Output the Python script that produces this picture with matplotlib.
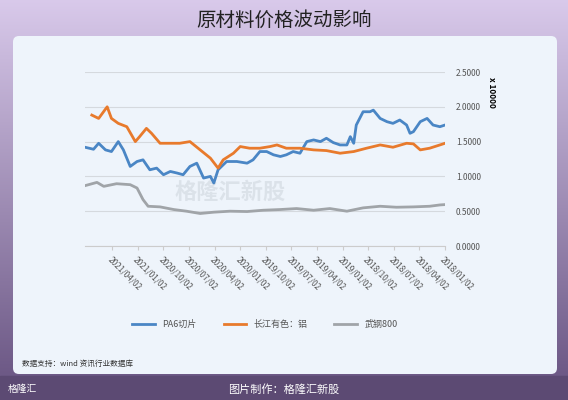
import numpy as np
import matplotlib
matplotlib.use('Agg')
import matplotlib.pyplot as plt
from matplotlib.patches import FancyBboxPatch, Rectangle

plt.rcParams['font.family'] = ['Noto Sans CJK SC', 'DejaVu Sans']

# months after 2018/01/02, values in units of 10000
tick_labels = ['2018/01/02', '2018/04/02', '2018/07/02', '2018/10/02', '2019/01/02',
               '2019/04/02', '2019/07/02', '2019/10/02', '2020/01/02', '2020/04/02',
               '2020/07/02', '2020/10/02', '2021/01/02', '2021/04/02']
tick_months = [0, 3, 6, 9, 12, 15, 18, 21, 24, 27, 30, 33, 36, 39]

pa6_m = [0, 0.6, 1.4, 2.1, 2.9, 3.7, 4.1, 4.5, 5.3, 6.1, 6.8, 7.6, 8.4, 8.8, 9.6, 10.4, 10.7,
         11.1, 11.5, 12.3, 13.1, 13.9, 14.6, 15.4, 16.2, 17.0, 17.8, 18.6, 19.3, 20.1, 20.9,
         21.7, 22.5, 23.2, 24.4, 25.6, 26.6, 27.1, 27.5, 28.3, 29.1, 29.9, 30.7, 31.4, 32.2,
         33.0, 33.8, 34.6, 35.4, 36.1, 36.9, 37.7, 38.3, 39.1, 39.8, 40.6, 41.2, 42.2]
pa6_v = [1.738, 1.714, 1.738, 1.833, 1.786, 1.643, 1.619, 1.738, 1.81, 1.762, 1.786, 1.833,
         1.952, 1.929, 1.929, 1.738, 1.476, 1.571, 1.452, 1.452, 1.486, 1.548, 1.5, 1.524,
         1.5, 1.333, 1.357, 1.31, 1.286, 1.31, 1.357, 1.357, 1.238, 1.19, 1.214, 1.214, 1.095,
         0.905, 1.0, 0.976, 1.19, 1.143, 1.024, 1.048, 1.071, 1.024, 1.119, 1.095, 1.238,
         1.214, 1.143, 1.381, 1.5, 1.357, 1.381, 1.476, 1.39, 1.419]

al_m = [0, 0.6, 1.8, 2.9, 3.7, 4.5, 6.1, 7.6, 9.2, 10.7, 12.3, 13.9, 15.4, 17.0, 18.6, 19.7,
        20.5, 21.7, 22.9, 24.0, 24.8, 26.0, 26.6, 27.5, 28.7, 29.9, 31.1, 32.2, 33.4, 34.4,
        35.0, 35.8, 36.3, 37.3, 38.3, 39.1, 39.6, 40.6, 41.4]
al_v = [1.476, 1.452, 1.405, 1.381, 1.467, 1.476, 1.419, 1.452, 1.405, 1.357, 1.333, 1.371,
        1.381, 1.405, 1.405, 1.452, 1.429, 1.405, 1.405, 1.429, 1.333, 1.238, 1.119, 1.262,
        1.381, 1.5, 1.476, 1.476, 1.476, 1.619, 1.69, 1.571, 1.5, 1.714, 1.762, 1.833, 2.0,
        1.833, 1.881]

wg_m = [0, 0.6, 1.8, 3.7, 5.7, 7.6, 9.6, 11.5, 13.5, 15.4, 17.4, 19.3, 21.3, 23.2, 25.2,
        27.1, 28.7, 30.3, 31.8, 33.4, 34.8, 35.4, 36.1, 36.9, 38.5, 40.0, 40.8, 42.2]
wg_v = [0.595, 0.590, 0.571, 0.562, 0.557, 0.571, 0.548, 0.5, 0.538, 0.514, 0.538, 0.524,
        0.514, 0.495, 0.5, 0.486, 0.467, 0.5, 0.524, 0.562, 0.571, 0.667, 0.833, 0.881,
        0.895, 0.857, 0.914, 0.867]

W, H = 568, 400
fig = plt.figure(figsize=(W / 100, H / 100), dpi=100)

# purple gradient background
bg = fig.add_axes([0, 0, 1, 1], zorder=-10)
grad = np.linspace(0, 1, 256)[:, None]
top = np.array([0.85, 0.79, 0.92])
bot = np.array([0.40, 0.32, 0.50])
img = top + (bot - top) * grad[..., None]
bg.imshow(img, aspect='auto', extent=[0, W, H, 0])
bg.set_xlim(0, W)
bg.set_ylim(H, 0)
bg.axis('off')
bg.add_patch(Rectangle((0, 376), W, 24, color='#5c4a73'))
bg.add_patch(FancyBboxPatch((13, 36), 544, 338, boxstyle='round,pad=0,rounding_size=6',
                            fc='#eef4fb', ec='none'))
bg.text(284, 20, '原材料价格波动影响', ha='center', va='center', fontsize=14, color='#222222')
bg.text(22, 364, '数据支持：wind 资讯行业数据库', fontsize=5.5, color='#333333', va='center')
bg.text(284, 389, '图片制作：格隆汇新股', fontsize=8, color='white', va='center', ha='center')
bg.text(8, 389, '格隆汇', fontsize=7, color='white', va='center')
bg.text(230, 192, '格隆汇新股', fontsize=16, color='#cfd6de', alpha=0.6,
        ha='center', va='center', fontweight='bold')

ax = fig.add_axes([85 / W, 1 - 246 / H, 360 / W, 174 / H])
ax.set_facecolor('none')
ax.plot(pa6_m, pa6_v, color='#4a86c5', lw=2, label='PA6切片')
ax.plot(al_m, al_v, color='#e87a2c', lw=2, label='长江有色：铝')
ax.plot(wg_m, wg_v, color='#a0a4a8', lw=2, label='武钢800')
ax.set_xlim(42.2, 0)
ax.set_ylim(0, 2.5)
ax.set_yticks([0, 0.5, 1.0, 1.5, 2.0, 2.5])
ax.yaxis.set_major_formatter(matplotlib.ticker.FormatStrFormatter('%.4f'))
ax.yaxis.tick_right()
ax.tick_params(axis='y', length=0, labelsize=6, colors='#555555', pad=8)
ax.set_xticks(tick_months)
ax.set_xticklabels(tick_labels, rotation=-45, ha='left', rotation_mode='anchor',
                   fontsize=6, color='#555555')
ax.tick_params(axis='x', length=3, color='#cccccc')
ax.grid(axis='y', color='#d5d9de', lw=0.8)
for s in ['top', 'left', 'right']:
    ax.spines[s].set_visible(False)
ax.spines['bottom'].set_color('#cccccc')
ax.text(1.13, 0.88, 'x 10000', transform=ax.transAxes, rotation=-90, fontsize=6,
        fontweight='bold', ha='center', va='center')
ax.legend(loc='upper center', bbox_to_anchor=(0.5, -0.38), ncol=3, frameon=False,
          fontsize=6.5, handlelength=2.5, columnspacing=3, labelcolor='#555555')

fig.savefig('out.png', dpi=100)
